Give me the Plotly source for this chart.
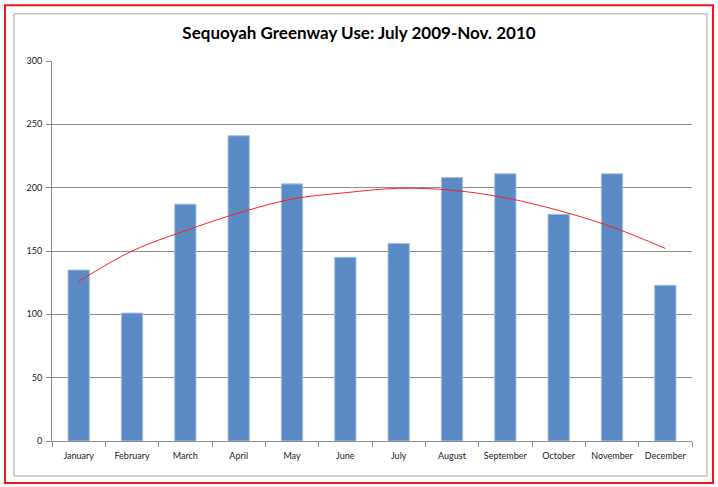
import plotly.graph_objects as go

# Monthly use counts
months = ["January", "February", "March", "April", "May", "June",
          "July", "August", "September", "October", "November", "December"]
use_counts = [135, 101, 187, 241, 203, 145, 156, 208, 211, 179, 211, 123]
# Polynomial trendline as drawn in the original
trend_values = [126, 150, 166, 180, 191, 196, 199.5, 198, 192, 182, 169, 152]

fig = go.Figure()

fig.add_trace(go.Bar(
    x=months, y=use_counts,
    marker=dict(color="#5B8BC5", line=dict(color="#A9C2E2", width=1)),
    showlegend=False
))

fig.add_trace(go.Scatter(
    x=months, y=trend_values,
    mode="lines", line=dict(color="#FF2020", width=1, shape="spline"),
    showlegend=False
))

# Chart frame (outer red, inner grey), in paper coords
fig.add_shape(type="rect", xref="paper", yref="paper",
              x0=-0.0734, x1=1.0328, y0=-0.1105, y1=1.147,
              line=dict(color="#E8191F", width=2), layer="below")
fig.add_shape(type="rect", xref="paper", yref="paper",
              x0=-0.0594, x1=1.0234, y0=-0.092, y1=1.124,
              line=dict(color="#A6A6A6", width=1), layer="below")

fig.update_layout(
    width=718, height=487,
    margin=dict(l=52, r=26, t=61, b=46, autoexpand=False),
    paper_bgcolor="white", plot_bgcolor="white",
    bargap=0.6,
    title=dict(text="<b>Sequoyah Greenway Use: July 2009-Nov. 2010</b>",
               x=0.5, xanchor="center", y=0.932, yanchor="middle",
               font=dict(family="Lato", size=17, color="black")),
    font=dict(family="Lato", size=9, color="#222222"),
    xaxis=dict(
        automargin=False,
        showline=True, linecolor="#8C8C8C", linewidth=1,
        ticks="outside", tickson="boundaries", ticklen=5, tickcolor="#8C8C8C",
        ticklabelstandoff=6,
        showgrid=False, tickfont=dict(size=9)
    ),
    yaxis=dict(
        automargin=False,
        range=[0, 300], dtick=50,
        showline=True, linecolor="#8C8C8C", linewidth=1,
        ticks="outside", ticklen=5, tickcolor="#8C8C8C",
        ticklabelstandoff=2,
        showgrid=True, gridcolor="#8C8C8C", gridwidth=1,
        zeroline=False, tickfont=dict(size=9)
    )
)

# remove the default page margin so the figure sits at the window origin
fig.write_html("out.html", config={"displayModeBar": False},
               post_script="document.body.style.margin='0';")
